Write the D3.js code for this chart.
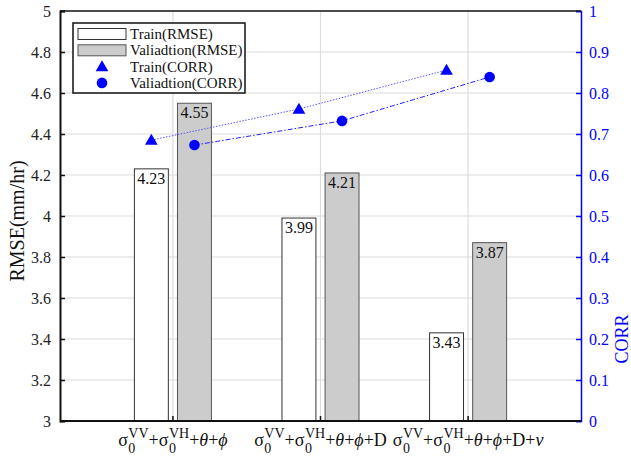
<!DOCTYPE html>
<html>
<head>
<meta charset="utf-8">
<script src="https://cdn.jsdelivr.net/npm/d3@7"></script>
<style>
  body { margin: 0; background: #fff; }
  svg text { font-family: "Liberation Serif", "Times New Roman", serif; }
</style>
</head>
<body>
<svg id="chart" width="631" height="457"></svg>
<script>
// ---- Data ----
const categories = [1, 2, 3];
// label tokens: [base, sub, sup] or plain string
const xLabels = [
  [["σ", "0", "VV"], "+", ["σ", "0", "VH"], "+θ+ϕ"],
  [["σ", "0", "VV"], "+", ["σ", "0", "VH"], "+θ+ϕ+D"],
  [["σ", "0", "VV"], "+", ["σ", "0", "VH"], "+θ+ϕ+D+ν"]
];
const trainRMSE = [4.23, 3.99, 3.43];
const validRMSE = [4.55, 4.21, 3.87];
const trainCORR = [0.685, 0.761, 0.856];
const validCORR = [0.673, 0.732, 0.839];
const leftTicks = [3, 3.2, 3.4, 3.6, 3.8, 4, 4.2, 4.4, 4.6, 4.8, 5];
const rightTicks = [0, 0.1, 0.2, 0.3, 0.4, 0.5, 0.6, 0.7, 0.8, 0.9, 1];
const legendItems = ["Train(RMSE)", "Valiadtion(RMSE)", "Train(CORR)", "Valiadtion(CORR)"];

const BLUE = "#0000ff";
const FONT = "Liberation Serif";
const margin = { top: 11, right: 50, bottom: 36, left: 60 };
const W = 631, H = 457;
const width = W - margin.left - margin.right;
const height = H - margin.top - margin.bottom;

const svg = d3.select("#chart").attr("font-family", FONT);
const g = svg.append("g").attr("transform", `translate(${margin.left},${margin.top})`);

// ---- Scales ----
const x = d3.scaleLinear().domain([0.235, 3.765]).range([0, width]);
const yL = d3.scaleLinear().domain([3, 5]).range([height, 0]);
const yR = d3.scaleLinear().domain([0, 1]).range([height, 0]);
const barOff = 0.146, barW = 0.23;

// ---- Grid ----
g.append("g").selectAll("line")
  .data(leftTicks.slice(1, -1))
  .join("line")
  .attr("x1", 0).attr("x2", width)
  .attr("y1", d => yL(d)).attr("y2", d => yL(d))
  .attr("stroke", "#dcdcdc").attr("stroke-width", 1.2);
g.append("g").selectAll("line")
  .data(categories)
  .join("line")
  .attr("x1", d => x(d)).attr("x2", d => x(d))
  .attr("y1", 0).attr("y2", height)
  .attr("stroke", "#dcdcdc").attr("stroke-width", 1.2);

// ---- Bars ----
function drawBars(vals, off, fill, stroke) {
  const bars = g.append("g");
  bars.selectAll("rect")
    .data(vals)
    .join("rect")
    .attr("x", (d, i) => x(categories[i] + off - barW / 2))
    .attr("width", x(barW) - x(0))
    .attr("y", d => yL(d))
    .attr("height", d => height - yL(d))
    .attr("fill", fill).attr("stroke", stroke).attr("stroke-width", 1);
  bars.selectAll("text")
    .data(vals)
    .join("text")
    .attr("x", (d, i) => x(categories[i] + off))
    .attr("y", d => yL(d) + 15)
    .attr("text-anchor", "middle")
    .attr("font-size", 16)
    .attr("fill", "#111")
    .text(d => d.toFixed(2));
}
drawBars(trainRMSE, -barOff, "#ffffff", "#333");
drawBars(validRMSE, barOff, "#cccccc", "#555");

// ---- CORR lines ----
const lineT = d3.line().x((d, i) => x(categories[i] - barOff)).y(d => yR(d));
const lineV = d3.line().x((d, i) => x(categories[i] + barOff)).y(d => yR(d));
g.append("path").attr("d", lineT(trainCORR))
  .attr("fill", "none").attr("stroke", "#5555ff").attr("stroke-width", 1)
  .attr("stroke-dasharray", "1.5,1.5");
g.append("path").attr("d", lineV(validCORR))
  .attr("fill", "none").attr("stroke", "#2222ff").attr("stroke-width", 1)
  .attr("stroke-dasharray", "5,2,1.5,2");
const tri = d3.symbol().type(d3.symbolTriangle).size(70);
g.append("g").selectAll("path")
  .data(trainCORR)
  .join("path")
  .attr("d", tri)
  .attr("transform", (d, i) => `translate(${x(categories[i] - barOff)},${yR(d) + 1})`)
  .attr("fill", BLUE);
g.append("g").selectAll("circle")
  .data(validCORR)
  .join("circle")
  .attr("cx", (d, i) => x(categories[i] + barOff))
  .attr("cy", d => yR(d))
  .attr("r", 5.3)
  .attr("fill", BLUE);

// ---- Axes ----
const axL = g.append("g").call(d3.axisLeft(yL).tickValues(leftTicks).tickSize(-5).tickPadding(9).tickFormat(d3.format("")));
axL.attr("font-family", FONT);
axL.select(".domain").attr("stroke", "#111").attr("stroke-width", 2);
axL.selectAll(".tick line").attr("stroke", "#111").attr("stroke-width", 1.5);
axL.selectAll("text").attr("font-size", 16).attr("fill", "#222");

const axR = g.append("g").attr("transform", `translate(${width},0)`)
  .call(d3.axisRight(yR).tickValues(rightTicks).tickSize(-5).tickPadding(8).tickFormat(d3.format("")));
axR.attr("font-family", FONT);
axR.select(".domain").attr("stroke", BLUE).attr("stroke-width", 1.5);
axR.selectAll(".tick line").attr("stroke", BLUE).attr("stroke-width", 1.5);
axR.selectAll("text").attr("font-size", 16).attr("fill", BLUE);

// bottom and top frame
g.append("line").attr("x1", 0).attr("x2", width).attr("y1", height).attr("y2", height)
  .attr("stroke", "#111").attr("stroke-width", 2);
g.append("line").attr("x1", 0).attr("x2", width).attr("y1", 0).attr("y2", 0)
  .attr("stroke", "#111").attr("stroke-width", 1.5);
g.append("g").selectAll("line")
  .data(categories)
  .join("line")
  .attr("x1", d => x(d)).attr("x2", d => x(d))
  .attr("y1", height).attr("y2", height - 5)
  .attr("stroke", "#111").attr("stroke-width", 1.5);

// x tick labels with sub/superscripts; greek letters after the first term in italics
function texLabel(tokens, cx, base) {
  const lg = g.append("g").attr("fill", "#111");
  let cur = 0;
  tokens.forEach(tk => {
    if (typeof tk === "string") {
      const t = lg.append("text").attr("x", cur).attr("y", base).attr("font-size", 18);
      [...tk].forEach(ch => {
        t.append("tspan")
          .attr("font-style", /[θϕν]/.test(ch) ? "italic" : "normal")
          .text(ch);
      });
      cur += t.node().getComputedTextLength();
    } else {
      const b = lg.append("text").attr("x", cur).attr("y", base).attr("font-size", 18).text(tk[0]);
      cur += b.node().getComputedTextLength() + 0.5;
      const sb = lg.append("text").attr("x", cur).attr("y", base + 7).attr("font-size", 14).text(tk[1]);
      const sp = lg.append("text").attr("x", cur).attr("y", base - 8).attr("font-size", 14).text(tk[2]);
      cur += Math.max(sb.node().getComputedTextLength(), sp.node().getComputedTextLength());
    }
  });
  lg.attr("transform", `translate(${cx - cur / 2},0)`);
}
categories.forEach((c, i) => texLabel(xLabels[i], x(c), height + 25));

// ---- Axis titles ----
svg.append("text")
  .attr("transform", `translate(24,${margin.top + height / 2 + 5}) rotate(-90)`)
  .attr("text-anchor", "middle").attr("font-size", 20).attr("fill", "#111")
  .text("RMSE(mm/hr)");
svg.append("text")
  .attr("transform", `translate(628,${margin.top + yR(0.2)}) rotate(-90)`)
  .attr("text-anchor", "middle").attr("font-size", 18).attr("fill", BLUE)
  .text("CORR");

// ---- Legend ----
const lg = svg.append("g").attr("transform", "translate(73,23)");
lg.append("rect").attr("width", 172).attr("height", 70)
  .attr("fill", "#fff").attr("stroke", "#111").attr("stroke-width", 1.5);
legendItems.forEach((name, i) => {
  const cy = 11 + i * 16.3;
  if (i === 0) lg.append("rect").attr("x", 5).attr("y", cy - 5.5).attr("width", 48).attr("height", 11)
    .attr("fill", "#fff").attr("stroke", "#333");
  if (i === 1) lg.append("rect").attr("x", 5).attr("y", cy - 5.5).attr("width", 48).attr("height", 11)
    .attr("fill", "#cccccc").attr("stroke", "#555");
  if (i === 2) lg.append("path").attr("d", tri).attr("transform", `translate(29,${cy + 1})`).attr("fill", BLUE);
  if (i === 3) lg.append("circle").attr("cx", 29).attr("cy", cy).attr("r", 5.3).attr("fill", BLUE);
  lg.append("text").attr("x", 57).attr("y", cy + 5).attr("font-size", 15).attr("fill", "#111").text(name);
});
</script>
</body>
</html>
